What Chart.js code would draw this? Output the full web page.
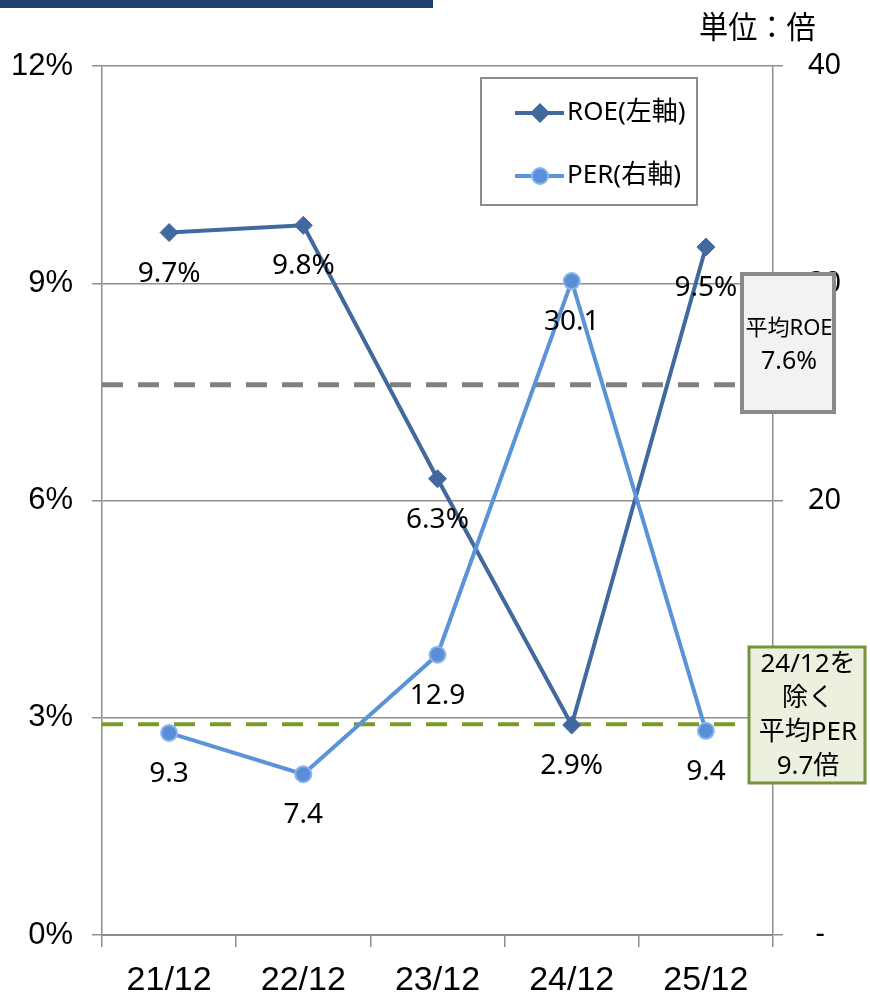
<!DOCTYPE html>
<html lang="ja">
<head>
<meta charset="utf-8">
<title>ROE・PER推移</title>
<script src="https://cdn.jsdelivr.net/npm/chart.js@4.4.1/dist/chart.umd.min.js"></script>
<style>
  html, body { margin: 0; padding: 0; background: #fff; }
  #wrap { position: relative; width: 870px; height: 999px; overflow: hidden; }
  #band { position: absolute; left: 0; top: 0; width: 433px; height: 8px; background: #1f3f6f; }
  #unit {
    position: absolute; left: 699px; top: 3px;
    font: 27px "Noto Sans CJK JP", sans-serif; color: #000;
    transform: scale(1.08, 1.12); transform-origin: left top;
  }
  canvas { position: absolute; left: 0; top: 0; }
</style>
</head>
<body>
<div id="wrap">
  <canvas id="chart" width="870" height="999"></canvas>
  <div id="band"></div>
  <div id="unit">単位：倍</div>
</div>
<script>
// periods and series
const periods = ['21/12', '22/12', '23/12', '24/12', '25/12'];
const roe = [9.7, 9.8, 6.3, 2.9, 9.5];      // %, left axis
const per = [9.3, 7.4, 12.9, 30.1, 9.4];    // times, right axis

// reference levels
const avgRoe = 7.6;        // average ROE
const avgPerExcl = 9.7;    // average PER without 24/12

const roeNote = ['平均ROE', avgRoe.toFixed(1) + '%'];
const perNote = ['24/12を', '除く', '平均PER', avgPerExcl.toFixed(1) + '倍'];

const roeColor = '#41699e';
const perColor = '#5b93d9';
const gridColor = '#8e8e8e';

const axisFont = '"Liberation Sans", Arial, sans-serif';
const body = '"Noto Sans", "Noto Sans CJK JP", sans-serif';

// dashed average lines across the plot area
const refLines = {
  id: 'refLines',
  beforeDatasetsDraw(chart) {
    const { ctx, chartArea: a, scales } = chart;
    const lines = [
      { y: scales.y.getPixelForValue(avgRoe), color: '#808080', width: 5 },
      { y: scales.y1.getPixelForValue(avgPerExcl), color: '#7a9a2a', width: 4 }
    ];
    ctx.save();
    ctx.setLineDash([21, 15]);
    lines.forEach(l => {
      ctx.strokeStyle = l.color;
      ctx.lineWidth = l.width;
      ctx.beginPath();
      ctx.moveTo(a.left, l.y);
      ctx.lineTo(a.right, l.y);
      ctx.stroke();
    });
    ctx.restore();
  }
};

// value labels under each point
const pointLabels = {
  id: 'pointLabels',
  afterDatasetsDraw(chart) {
    const { ctx } = chart;
    ctx.save();
    ctx.font = '28px ' + body;
    ctx.fillStyle = '#000';
    ctx.textAlign = 'center';
    ctx.textBaseline = 'middle';
    chart.data.datasets.forEach((ds, i) => {
      const meta = chart.getDatasetMeta(i);
      meta.data.forEach((pt, j) => {
        const v = ds.data[j].toFixed(1) + (ds.yAxisID === 'y' ? '%' : '');
        ctx.fillText(v, pt.x, pt.y + 41);
      });
    });
    ctx.restore();
  }
};

// legend box and the two callouts
const notes = {
  id: 'notes',
  afterDraw(chart) {
    const { ctx } = chart;
    ctx.save();

    // legend
    ctx.fillStyle = '#fff';
    ctx.fillRect(481, 78, 216, 127);
    ctx.strokeStyle = '#8c8c8c';
    ctx.lineWidth = 2;
    ctx.strokeRect(481, 78, 216, 127);
    chart.data.datasets.forEach((ds, i) => {
      const y = 113 + i * 63;
      ctx.strokeStyle = ds.borderColor;
      ctx.lineWidth = 4;
      ctx.beginPath();
      ctx.moveTo(515, y);
      ctx.lineTo(564, y);
      ctx.stroke();
      ctx.fillStyle = ds.pointBackgroundColor;
      ctx.beginPath();
      if (ds.pointStyle === 'rectRot') {
        ctx.moveTo(540, y - 10); ctx.lineTo(550, y); ctx.lineTo(540, y + 10); ctx.lineTo(530, y);
        ctx.closePath();
        ctx.fill();
      } else {
        ctx.arc(540, y, 8, 0, Math.PI * 2);
        ctx.fill();
        ctx.strokeStyle = ds.pointBorderColor;
        ctx.lineWidth = 2;
        ctx.stroke();
      }
      ctx.fillStyle = '#000';
      ctx.font = '26px ' + body;
      ctx.textAlign = 'left';
      ctx.textBaseline = 'middle';
      ctx.fillText(ds.label, 567, y);
    });

    // average ROE callout
    ctx.fillStyle = '#f2f2f2';
    ctx.fillRect(742, 274, 92, 138);
    ctx.strokeStyle = '#8a8a8a';
    ctx.lineWidth = 4;
    ctx.strokeRect(742, 274, 92, 138);
    ctx.fillStyle = '#000';
    ctx.textAlign = 'center';
    ctx.textBaseline = 'middle';
    ctx.font = '22px ' + body;
    ctx.fillText(roeNote[0], 789, 329);
    ctx.font = '25px ' + body;
    ctx.fillText(roeNote[1], 789, 362);

    // average PER callout
    ctx.fillStyle = '#ebf1de';
    ctx.fillRect(749, 647, 116, 136);
    ctx.strokeStyle = '#77933c';
    ctx.lineWidth = 3;
    ctx.strokeRect(749, 647, 116, 136);
    ctx.fillStyle = '#000';
    ctx.font = '26px ' + body;
    perNote.forEach((t, i) => ctx.fillText(t, 808, 665 + i * 34));

    ctx.restore();
  }
};

new Chart(document.getElementById('chart'), {
  type: 'line',
  data: {
    labels: periods,
    datasets: [
      {
        label: 'ROE(左軸)',
        data: roe,
        yAxisID: 'y',
        order: 1,
        borderColor: roeColor,
        backgroundColor: roeColor,
        borderWidth: 4,
        pointStyle: 'rectRot',
        pointRadius: 9,
        pointBackgroundColor: roeColor,
        pointBorderColor: roeColor,
        pointBorderWidth: 1
      },
      {
        label: 'PER(右軸)',
        data: per,
        yAxisID: 'y1',
        order: 0,
        borderColor: perColor,
        backgroundColor: perColor,
        borderWidth: 4,
        pointStyle: 'circle',
        pointRadius: 8,
        pointBackgroundColor: '#5a8fd8',
        pointBorderColor: '#8ab4ea',
        pointBorderWidth: 2
      }
    ]
  },
  options: {
    responsive: false,
    animation: false,
    layout: { padding: { top: 66, left: 0, right: 0, bottom: 0 } },
    plugins: { legend: { display: false }, tooltip: { enabled: false } },
    scales: {
      x: {
        offset: true,
        grid: { offset: true, drawOnChartArea: false, tickLength: 12, color: gridColor, lineWidth: 1.5 },
        border: { color: gridColor, width: 2 },
        ticks: { color: '#000', padding: 13, font: { family: axisFont, size: 34 } },
        afterFit(s) { s.height = 64; }
      },
      y: {
        position: 'left',
        min: 0,
        max: 12,
        ticks: { stepSize: 3, color: '#000', padding: 19, font: { family: axisFont, size: 31 }, callback: v => v + '%' },
        grid: { color: gridColor, lineWidth: 1.5, tickLength: 10 },
        border: { color: gridColor, width: 1.5 },
        afterFit(s) { s.width = 102; }
      },
      y1: {
        position: 'right',
        min: 0,
        max: 40,
        ticks: { stepSize: 10, color: '#000', padding: 25, font: { family: body, size: 29 }, callback: v => v === 0 ? ' -' : v },
        grid: { drawOnChartArea: false, color: gridColor, lineWidth: 1.5, tickLength: 10 },
        border: { color: gridColor, width: 1.5 },
        afterFit(s) { s.width = 97; }
      }
    }
  },
  plugins: [refLines, pointLabels, notes]
});
</script>
</body>
</html>
